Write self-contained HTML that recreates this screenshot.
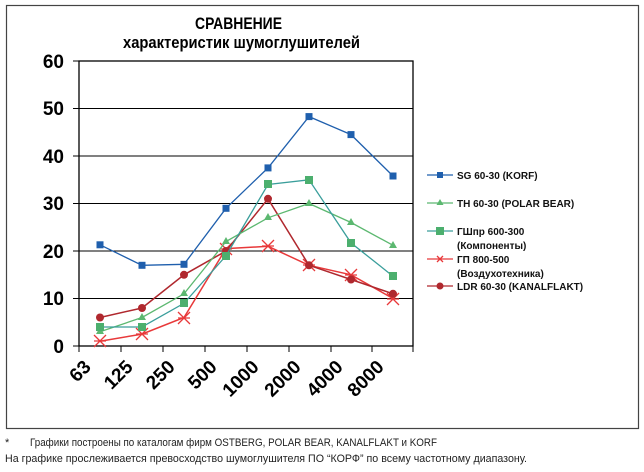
<!DOCTYPE html><html><head><style>body{margin:0;background:#fff}svg{display:block}</style></head><body>
<svg width="644" height="472" xmlns="http://www.w3.org/2000/svg" font-family="Liberation Sans, sans-serif">
<rect x="6.5" y="5.5" width="632" height="423" fill="#fff" stroke="#444" stroke-width="1.2"/>
<text x="195" y="29" font-size="17" font-weight="bold" textLength="87" lengthAdjust="spacingAndGlyphs">СРАВНЕНИЕ</text>
<text x="123" y="48" font-size="17" font-weight="bold" textLength="237" lengthAdjust="spacingAndGlyphs">характеристик шумоглушителей</text>
<g stroke="#000" stroke-width="1">
<line x1="79" y1="108.5" x2="413" y2="108.5"/><line x1="79" y1="156" x2="413" y2="156"/>
<line x1="79" y1="203.5" x2="413" y2="203.5"/><line x1="79" y1="251" x2="413" y2="251"/>
<line x1="79" y1="298.5" x2="413" y2="298.5"/>
</g>
<rect x="79" y="61" width="334" height="285" fill="none" stroke="#000" stroke-width="1.3"/>
<g stroke="#000"><line x1="73" y1="61" x2="79" y2="61"/><line x1="73" y1="108.5" x2="79" y2="108.5"/><line x1="73" y1="156" x2="79" y2="156"/><line x1="73" y1="203.5" x2="79" y2="203.5"/><line x1="73" y1="251" x2="79" y2="251"/><line x1="73" y1="298.5" x2="79" y2="298.5"/><line x1="73" y1="346" x2="79" y2="346"/>
<line x1="79" y1="346" x2="79" y2="352"/><line x1="121" y1="346" x2="121" y2="352"/><line x1="163" y1="346" x2="163" y2="352"/><line x1="205" y1="346" x2="205" y2="352"/><line x1="247" y1="346" x2="247" y2="352"/><line x1="289" y1="346" x2="289" y2="352"/><line x1="331" y1="346" x2="331" y2="352"/><line x1="372" y1="346" x2="372" y2="352"/><line x1="413" y1="346" x2="413" y2="352"/></g>
<g font-size="19" font-weight="bold" text-anchor="end">
<text x="64" y="68">60</text><text x="64" y="115">50</text><text x="64" y="163">40</text><text x="64" y="210">30</text><text x="64" y="258">20</text><text x="64" y="305">10</text><text x="64" y="353">0</text></g>
<g font-size="19" font-weight="bold" text-anchor="end">
<text transform="translate(92,368) rotate(-45)">63</text>
<text transform="translate(134,368) rotate(-45)">125</text>
<text transform="translate(176,368) rotate(-45)">250</text>
<text transform="translate(218,368) rotate(-45)">500</text>
<text transform="translate(260,368) rotate(-45)">1000</text>
<text transform="translate(302,368) rotate(-45)">2000</text>
<text transform="translate(344,368) rotate(-45)">4000</text>
<text transform="translate(385,368) rotate(-45)">8000</text></g>
<polyline fill="none" stroke="#e8393a" stroke-width="1.5" points="100,341.3 142,334.1 184,317.5 226,248.6 268,246.3 309,265.3 351,274.8 393,298.5"/>
<g stroke="#e8393a" stroke-width="1.3">
<path d="M94,335l12,12M106,335l-12,12M94,341h12M136,328l12,12M148,328l-12,12M136,334h12M178,312l12,12M190,312l-12,12M178,318h12M220,243l12,12M232,243l-12,12M220,249h12M262,240l12,12M274,240l-12,12M262,246h12M303,259l12,12M315,259l-12,12M303,265h12M345,269l12,12M357,269l-12,12M345,275h12M387,293l12,12M399,293l-12,12M387,299h12"/></g>
<polyline fill="none" stroke="#b0282e" stroke-width="1.5" points="100,317.5 142,308 184,274.8 226,251 268,198.8 309,265.3 351,279.5 393,293.8"/>
<g fill="#b0282e"><circle cx="100" cy="317.5" r="4"/><circle cx="142" cy="308" r="4"/><circle cx="184" cy="274.8" r="4"/><circle cx="226" cy="251" r="4"/><circle cx="268" cy="198.8" r="4"/><circle cx="309" cy="265.3" r="4"/><circle cx="351" cy="279.5" r="4"/><circle cx="393" cy="293.8" r="4"/></g>
<polyline fill="none" stroke="#5cb870" stroke-width="1.3" points="100,331.8 142,317.5 184,293.8 226,241.5 268,217.8 309,203.5 351,222.5 393,245.3"/>
<g fill="#5cb870"><path d="M100,327l4,7h-8zM142,313l4,7h-8zM184,289l4,7h-8zM226,237l4,7h-8zM268,213l4,7h-8zM309,199l4,7h-8zM351,218l4,7h-8zM393,241l4,7h-8z"/></g>
<polyline fill="none" stroke="#3a9e9b" stroke-width="1.3" points="100,327 142,327 184,303.3 226,255.8 268,184.5 309,179.8 351,242.9 393,276.2"/>
<g fill="#4caf6e"><rect x="96" y="323" width="8" height="8"/><rect x="138" y="323" width="8" height="8"/><rect x="180" y="299" width="8" height="8"/><rect x="222" y="252" width="8" height="8"/><rect x="264" y="180" width="8" height="8"/><rect x="305" y="176" width="8" height="8"/><rect x="347" y="239" width="8" height="8"/><rect x="389" y="272" width="8" height="8"/></g>
<polyline fill="none" stroke="#1f5fad" stroke-width="1.3" points="100,244.8 142,265.3 184,264.3 226,208.3 268,167.9 309,116.6 351,134.6 393,176"/>
<g fill="#1f5fad"><rect x="96.5" y="241.3" width="7" height="7"/><rect x="138.5" y="261.8" width="7" height="7"/><rect x="180.5" y="260.8" width="7" height="7"/><rect x="222.5" y="204.8" width="7" height="7"/><rect x="264.5" y="164.4" width="7" height="7"/><rect x="305.5" y="113.1" width="7" height="7"/><rect x="347.5" y="131.1" width="7" height="7"/><rect x="389.5" y="172.5" width="7" height="7"/></g>
<g stroke-width="1.3">
<line x1="427" y1="175" x2="453" y2="175" stroke="#1f5fad"/><rect x="437" y="172" width="6" height="6" fill="#1f5fad"/>
<line x1="427" y1="203" x2="453" y2="203" stroke="#5cb870"/><path d="M440,199l3.5,6h-7z" fill="#5cb870"/>
<line x1="427" y1="231" x2="453" y2="231" stroke="#3a9e9b"/><rect x="436" y="227" width="8" height="8" fill="#4caf6e"/>
<line x1="427" y1="259" x2="453" y2="259" stroke="#e8393a"/><path d="M437,256l6,6M443,256l-6,6" stroke="#e8393a"/>
<line x1="427" y1="286" x2="453" y2="286" stroke="#b0282e"/><circle cx="440" cy="286" r="3.5" fill="#b0282e"/></g>
<g font-size="10" font-weight="bold" fill="#111">
<text x="457" y="179">SG 60-30 (KORF)</text>
<text x="457" y="207">TH 60-30 (POLAR BEAR)</text>
<text x="457" y="235">ГШпр 600-300</text>
<text x="457" y="249">(Компоненты)</text>
<text x="457" y="263">ГП 800-500</text>
<text x="457" y="277">(Воздухотехника)</text>
<text x="457" y="290">LDR 60-30 (KANALFLAKT)</text></g>
<g font-size="11" fill="#222">
<text x="5" y="446">*</text>
<text x="30" y="446" textLength="407" lengthAdjust="spacingAndGlyphs">Графики построены по каталогам фирм OSTBERG, POLAR BEAR, KANALFLAKT и KORF</text>
<text x="5" y="462" textLength="522" lengthAdjust="spacingAndGlyphs">На графике прослеживается превосходство шумоглушителя ПО “КОРФ” по всему частотному диапазону.</text></g>
</svg></body></html>
